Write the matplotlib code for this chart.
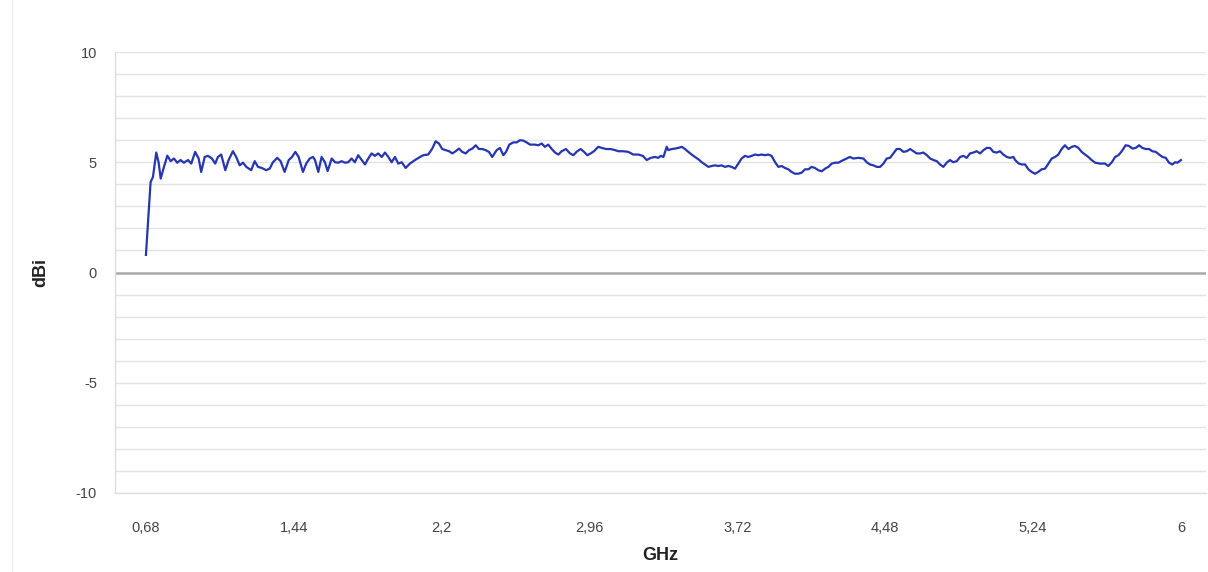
import matplotlib
matplotlib.use("Agg")
import matplotlib.pyplot as plt
from matplotlib.lines import Line2D

# Measured antenna gain versus frequency
freq_mhz = [
    680, 704, 716, 733, 745, 756, 773, 790, 807, 824, 841, 858, 875, 896, 913, 933,
    951, 964, 982, 999, 1019, 1036, 1050, 1067, 1088, 1105, 1127, 1144, 1162, 1179,
    1196, 1221, 1239, 1256, 1276, 1298, 1316, 1333, 1355, 1372, 1393, 1414, 1431,
    1448, 1465, 1487, 1504, 1522, 1539, 1549, 1566, 1583, 1600, 1614, 1635, 1652,
    1669, 1686, 1703, 1720, 1737, 1754, 1771, 1789, 1806, 1823, 1840, 1857, 1874,
    1892, 1909, 1926, 1943, 1960, 1977, 1995, 2015, 2037, 2063, 2089, 2106, 2131,
    2152, 2169, 2186, 2203, 2221, 2238, 2255, 2272, 2289, 2306, 2324, 2341, 2358,
    2375, 2392, 2409, 2426, 2443, 2460, 2483, 2500, 2517, 2531, 2548, 2568, 2586,
    2603, 2620, 2637, 2654, 2680, 2697, 2714, 2731, 2748, 2766, 2783, 2800, 2817,
    2839, 2860, 2877, 2897, 2915, 2932, 2949, 2966, 2983, 3005, 3023, 3045, 3069,
    3091, 3108, 3134, 3160, 3185, 3211, 3234, 3254, 3275, 3297, 3314, 3326, 3340,
    3357, 3365, 3383, 3400, 3417, 3434, 3451, 3468, 3485, 3502, 3519, 3537, 3554,
    3571, 3588, 3605, 3622, 3639, 3656, 3674, 3691, 3708, 3725, 3742, 3759, 3776,
    3794, 3811, 3828, 3845, 3862, 3879, 3896, 3914, 3931, 3948, 3965, 3982, 3999,
    4016, 4033, 4051, 4068, 4085, 4102, 4119, 4136, 4154, 4171, 4188, 4205, 4222,
    4239, 4265, 4282, 4299, 4316, 4342, 4368, 4385, 4402, 4419, 4437, 4454, 4471,
    4488, 4505, 4522, 4539, 4556, 4574, 4591, 4608, 4625, 4642, 4659, 4676, 4694,
    4711, 4728, 4745, 4762, 4779, 4796, 4813, 4830, 4848, 4865, 4882, 4899, 4916,
    4933, 4950, 4968, 4985, 5002, 5019, 5036, 5053, 5070, 5087, 5105, 5122, 5139,
    5148, 5165, 5182, 5199, 5216, 5233, 5250, 5267, 5284, 5302, 5319, 5336, 5353,
    5370, 5387, 5404, 5422, 5439, 5456, 5473, 5490, 5507, 5524, 5541, 5559, 5584,
    5610, 5627, 5645, 5662, 5679, 5696, 5716, 5733, 5751, 5768, 5785, 5802, 5819,
    5836, 5853, 5871, 5888, 5905, 5922, 5939, 5956, 5970, 5983, 6000,
]

gain_dbi = [
    0.80, 4.10, 4.33, 5.44, 5.00, 4.26, 4.80, 5.30, 5.05, 5.17, 4.98, 5.10, 4.98, 5.10, 4.94, 5.47,
    5.17, 4.56, 5.24, 5.29, 5.17, 4.94, 5.24, 5.35, 4.64, 5.10, 5.50, 5.24, 4.86, 4.98,
    4.79, 4.64, 5.05, 4.79, 4.74, 4.64, 4.71, 5.00, 5.20, 5.05, 4.56, 5.10, 5.24,
    5.47, 5.24, 4.56, 4.94, 5.17, 5.24, 5.10, 4.56, 5.24, 5.00, 4.60, 5.17, 5.00,
    4.98, 5.05, 4.98, 5.00, 5.17, 5.00, 5.32, 5.10, 4.90, 5.17, 5.40, 5.29, 5.40,
    5.24, 5.44, 5.24, 5.00, 5.24, 4.94, 5.00, 4.74, 4.94, 5.10, 5.24, 5.32, 5.35,
    5.62, 5.95, 5.85, 5.60, 5.55, 5.50, 5.40, 5.50, 5.62, 5.47, 5.40, 5.55, 5.62,
    5.77, 5.60, 5.60, 5.55, 5.47, 5.24, 5.55, 5.65, 5.32, 5.47, 5.80, 5.90, 5.90,
    6.00, 5.98, 5.90, 5.80, 5.80, 5.77, 5.85, 5.70, 5.80, 5.60, 5.44, 5.35, 5.50,
    5.60, 5.40, 5.32, 5.50, 5.60, 5.47, 5.32, 5.40, 5.50, 5.70, 5.65, 5.60, 5.60,
    5.55, 5.50, 5.50, 5.47, 5.35, 5.35, 5.29, 5.10, 5.20, 5.24, 5.20, 5.29, 5.24,
    5.70, 5.55, 5.60, 5.62, 5.65, 5.70, 5.60, 5.47, 5.35, 5.24, 5.14, 5.00, 4.90,
    4.79, 4.83, 4.86, 4.83, 4.86, 4.79, 4.83, 4.79, 4.71, 4.94, 5.17, 5.29, 5.24,
    5.29, 5.35, 5.32, 5.35, 5.32, 5.35, 5.29, 5.00, 4.79, 4.83, 4.74, 4.68, 4.56,
    4.48, 4.48, 4.53, 4.68, 4.68, 4.79, 4.74, 4.64, 4.59, 4.71, 4.79, 4.94, 4.98,
    4.98, 5.10, 5.17, 5.24, 5.17, 5.20, 5.17, 5.00, 4.90, 4.86, 4.79, 4.79, 4.94,
    5.17, 5.20, 5.40, 5.60, 5.60, 5.47, 5.50, 5.60, 5.50, 5.40, 5.40, 5.44, 5.32,
    5.17, 5.10, 5.05, 4.90, 4.79, 4.98, 5.10, 5.00, 5.05, 5.24, 5.29, 5.20, 5.40,
    5.44, 5.50, 5.40, 5.55, 5.65, 5.65, 5.47, 5.44, 5.50, 5.35, 5.24, 5.20, 5.24,
    5.10, 4.95, 4.90, 4.90, 4.68, 4.56, 4.48, 4.56, 4.68, 4.71, 4.94, 5.17, 5.24,
    5.35, 5.60, 5.77, 5.60, 5.70, 5.74, 5.65, 5.47, 5.35, 5.24, 5.10, 4.98, 4.94,
    4.94, 4.83, 5.00, 5.24, 5.32, 5.50, 5.77, 5.74, 5.62, 5.65, 5.77, 5.65, 5.60,
    5.60, 5.50, 5.47, 5.35, 5.24, 5.20, 4.98, 4.90, 5.00, 4.98, 5.10,
]

x_ticks = [0.68, 1.44, 2.2, 2.96, 3.72, 4.48, 5.24, 6.0]
x_tick_labels = ["0,68", "1,44", "2,2", "2,96", "3,72", "4,48", "5,24", "6"]
y_ticks = [-10, -5, 0, 5, 10]
y_tick_labels = ["-10", "-5", "0", "5", "10"]

plt.rcParams["font.family"] = ["Liberation Sans", "DejaVu Sans"]

fig = plt.figure(figsize=(12.08, 5.72), dpi=100)
ax = fig.add_axes([115 / 1208, 1 - 493 / 572, (1206 - 115) / 1208, (493 - 52) / 572])

freq_ghz = [f / 1000 for f in freq_mhz]

# horizontal grid every 1 dB
for y in range(-10, 11):
    if y == 0:
        continue
    ax.axhline(y, color="#e3e3e3", lw=1.0, zorder=1)
ax.axhline(0, color="#a8a8a8", lw=1.8, zorder=2)

ax.plot(freq_ghz, gain_dbi, color="#2536b0", lw=1.6, zorder=3, solid_joinstyle="round")

ax.set_xlim(0.521, 6.129)
ax.set_ylim(-10, 10)
ax.set_xticks(x_ticks)
ax.set_xticklabels(x_tick_labels)
ax.set_yticks(y_ticks)
ax.set_yticklabels(y_tick_labels)
ax.tick_params(axis="both", length=0, labelsize=10.5, labelcolor="#444444")
ax.tick_params(axis="x", pad=20)
ax.tick_params(axis="y", pad=13)

for side in ["top", "right"]:
    ax.spines[side].set_visible(False)
for side in ["left", "bottom"]:
    ax.spines[side].set_color("#dddddd")
    ax.spines[side].set_linewidth(1.0)

ax.set_xlabel("GHz", fontsize=13, fontweight="bold", color="#222222", labelpad=9)
ax.set_ylabel("dBi", fontsize=13, fontweight="bold", color="#222222", labelpad=19)

# faint outer frame edge on the left
fig.add_artist(Line2D([12 / 1208, 12 / 1208], [0, 1], color="#eeeeee", lw=1.0))

fig.savefig("out.png", dpi=100, facecolor="white")
